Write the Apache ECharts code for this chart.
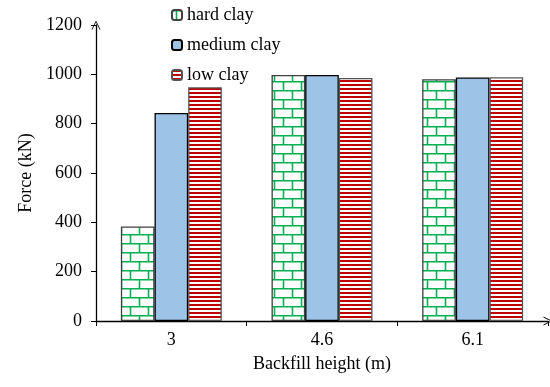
<!DOCTYPE html>
<html>
<head>
<meta charset="utf-8">
<script src="https://cdn.jsdelivr.net/npm/echarts@6/dist/echarts.min.js"></script>
<style>
  html, body { margin: 0; padding: 0; background: #fff; }
  #chart { width: 550px; height: 387px; }
</style>
</head>
<body>
<div id="chart"></div>
<script>
// data
var heights = ['3', '4.6', '6.1'];
var hardClay = [383, 997, 980];
var mediumClay = [843, 997, 987];
var lowClay = [948, 985, 988];
var yTicks = [0, 200, 400, 600, 800, 1000, 1200];

var font = '"Liberation Serif", "Times New Roman", serif';

// brick fill for hard clay
function brickPattern() {
  var c = document.createElement('canvas');
  c.width = 36; c.height = 18;
  var g = c.getContext('2d');
  g.fillStyle = '#fff';
  g.fillRect(0, 0, 36, 18);
  g.strokeStyle = '#00b050';
  g.lineWidth = 1.6;
  g.beginPath();
  g.moveTo(0, 0.8); g.lineTo(36, 0.8);
  g.moveTo(0, 9.8); g.lineTo(36, 9.8);
  // upper row joints
  g.moveTo(4.5, 0); g.lineTo(4.5, 9);
  g.moveTo(22.5, 0); g.lineTo(22.5, 9);
  // lower row joints
  g.moveTo(13.5, 9); g.lineTo(13.5, 18);
  g.moveTo(31.5, 9); g.lineTo(31.5, 18);
  g.stroke();
  return c;
}

// horizontal red stripes for low clay
function stripePattern() {
  var c = document.createElement('canvas');
  c.width = 8; c.height = 4;
  var g = c.getContext('2d');
  g.fillStyle = '#fff';
  g.fillRect(0, 0, 8, 4);
  g.fillStyle = '#c00000';
  g.fillRect(0, 0, 8, 2);
  return c;
}

var chart = echarts.init(document.getElementById('chart'), null, { renderer: 'canvas' });

var arrow = 'path://M0,10 L5,0 L10,10 L9,10 L5,2 L1,10 Z';

chart.setOption({
  animation: false,
  textStyle: { fontFamily: font },
  grid: { left: 96, right: 2, top: 25, bottom: 66 },
  legend: {
    orient: 'vertical',
    left: 171,
    top: 6,
    padding: 0,
    itemWidth: 10,
    itemHeight: 10,
    itemGap: 12,
    textStyle: { fontFamily: font, fontSize: 18, color: '#000' },
    data: ['hard clay', 'medium clay', 'low clay']
  },
  xAxis: {
    type: 'category',
    data: heights,
    name: 'Backfill height (m)',
    nameLocation: 'middle',
    nameGap: 34,
    nameTextStyle: { fontFamily: font, fontSize: 18, color: '#000' },
    axisLine: {
      lineStyle: { color: '#000', width: 1.3 },
      symbol: ['none', arrow],
      symbolSize: [9, 12]
    },
    axisTick: { show: true, length: 5, inside: false, lineStyle: { color: '#000' } },
    axisLabel: { fontFamily: font, fontSize: 18, color: '#000', margin: 10 }
  },
  yAxis: {
    type: 'value',
    min: yTicks[0],
    max: yTicks[yTicks.length - 1],
    interval: 200,
    name: 'Force (kN)',
    nameLocation: 'middle',
    nameGap: 57,
    nameTextStyle: { fontFamily: font, fontSize: 18, color: '#000' },
    splitLine: { show: false },
    axisLine: {
      show: true,
      lineStyle: { color: '#000', width: 1.3 },
      symbol: ['none', arrow],
      symbolSize: [9, 12]
    },
    axisTick: { show: true, length: 5, lineStyle: { color: '#000' } },
    axisLabel: {
      fontFamily: font, fontSize: 18, color: '#000', margin: 14,
      formatter: function (v) { return String(v); }
    }
  },
  series: [
    {
      name: 'hard clay',
      type: 'bar',
      data: hardClay,
      barGap: '0%',
      barCategoryGap: '33%',
      itemStyle: {
        color: { image: brickPattern(), repeat: 'repeat' },
        borderColor: '#404040',
        borderWidth: 1.3
      }
    },
    {
      name: 'medium clay',
      type: 'bar',
      data: mediumClay,
      barGap: '0%',
      barCategoryGap: '33%',
      itemStyle: { color: '#9dc3e6', borderColor: '#000', borderWidth: 1.3 }
    },
    {
      name: 'low clay',
      type: 'bar',
      data: lowClay,
      barGap: '0%',
      barCategoryGap: '33%',
      itemStyle: {
        color: { image: stripePattern(), repeat: 'repeat' },
        borderColor: '#555',
        borderWidth: 1.3
      }
    }
  ]
});
</script>
</body>
</html>
